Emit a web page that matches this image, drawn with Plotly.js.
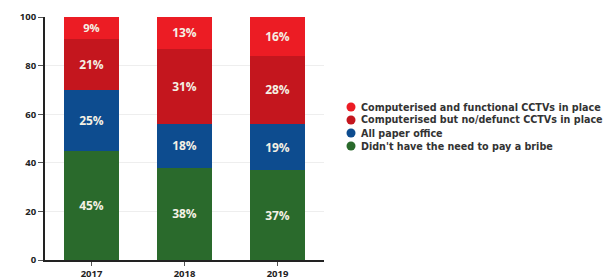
<!DOCTYPE html>
<html><head><meta charset="utf-8">
<script src="https://cdn.plot.ly/plotly-3.0.1.min.js"></script>
<style>html,body{margin:0;padding:0;background:#fff;}#chart{width:616px;height:280px;}</style>
</head><body><div id="chart"></div>
<script>
const years = ['2017', '2018', '2019'];
const noNeed = [45, 38, 37];
const paperOffice = [25, 18, 19];
const defunctCCTV = [21, 31, 28];
const functionalCCTV = [9, 13, 16];
const seriesNames = [
  "Didn't have the need to pay a bribe",
  'All paper office',
  'Computerised but no/defunct CCTVs in place',
  'Computerised and functional CCTVs in place'
];
const colors = ['#2a6a2c', '#0d4c8f', '#c4161e', '#ec1c24'];
const values = [noNeed, paperOffice, defunctCCTV, functionalCCTV];
const FONT = '"Open Sans", sans-serif';
const LFONT = '"DejaVu Sans", sans-serif';

const traces = values.map((v, i) => ({
  type: 'bar', x: years, y: v, name: seriesNames[i],
  marker: {color: colors[i]}, showlegend: false,
  text: v.map(d => d + '%'), textposition: 'inside', insidetextanchor: 'middle',
  textfont: {family: FONT, size: 12, color: '#f4f1e4', weight: 'bold'},
  hoverinfo: 'none'
}));

// legend: top entry = top of stack
const W = 616, H = 280, ML = 45, MR = 292, MT = 17, MB = 20;
const pw = W - ML - MR, ph = H - MT - MB;
const order = [3, 2, 1, 0];
const shapes = [], annotations = [];
order.forEach((idx, k) => {
  const py = 107 + k * 13;
  const yp = (H - MB - py) / ph;
  shapes.push({type: 'circle', xref: 'paper', yref: 'paper', xsizemode: 'pixel', ysizemode: 'pixel',
    xanchor: (351 - ML) / pw, yanchor: yp, x0: -4.5, x1: 4.5, y0: -4.5, y1: 4.5,
    fillcolor: colors[idx], line: {width: 0}});
  annotations.push({xref: 'paper', yref: 'paper', x: (359 - ML) / pw, y: yp,
    xanchor: 'left', yanchor: 'middle', showarrow: false, text: seriesNames[idx],
    font: {family: LFONT, size: 9.6, color: '#333', weight: 'bold'}});
});

const layout = {
  width: W, height: H,
  margin: {l: ML, r: MR, t: MT, b: MB},
  barmode: 'stack', bargap: 0.41,
  paper_bgcolor: '#fff', plot_bgcolor: '#fff',
  font: {family: FONT, size: 9, color: '#222', weight: 'bold'},
  xaxis: {type: 'category', showline: true, linecolor: '#222', linewidth: 2,
    ticks: 'outside', ticklen: 4, tickcolor: '#555', showgrid: false,
    tickfont: {size: 9.5, color: '#222', weight: 'bold'}},
  yaxis: {range: [0, 100], dtick: 20, showline: true, linecolor: '#222', linewidth: 2,
    ticks: 'outside', ticklen: 5, tickcolor: '#555', gridcolor: '#eeeeee', zeroline: false,
    tickfont: {size: 9.5, color: '#222', weight: 'bold'}},
  showlegend: false,
  shapes: shapes,
  annotations: annotations
};
Plotly.newPlot('chart', traces, layout, {displayModeBar: false, staticPlot: true});
</script></body></html>
